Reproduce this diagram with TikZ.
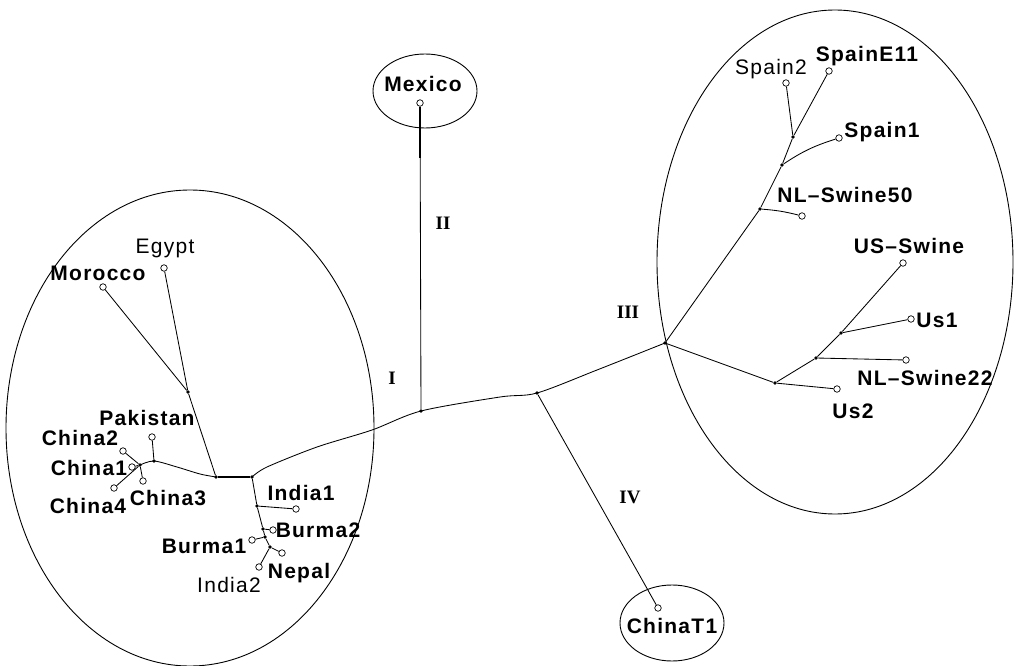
\documentclass[tikz,border=0pt]{standalone}
\usepackage{fontspec}
\setmainfont{Liberation Sans}
\newfontfamily\labfont[LetterSpace=6]{Liberation Sans}
\newfontfamily\romfont{Liberation Serif}
\begin{document}
\begin{tikzpicture}[x=1pt,y=-1pt,
  leaf/.style={circle,draw,fill=white,inner sep=0pt,minimum size=6.5pt,line width=0.7pt},
  junc/.style={circle,fill=black,inner sep=0pt,minimum size=3.6pt},
  lab/.style={anchor=base,inner sep=0pt,font=\labfont\fontsize{21}{24}\selectfont},
  blab/.style={anchor=base,inner sep=0pt,font=\labfont\bfseries\fontsize{21}{24}\selectfont},
  rom/.style={inner sep=0pt,font=\romfont\bfseries\fontsize{19}{22}\selectfont},
  br/.style={line width=0.85pt},
  ring/.style={line width=0.9pt}]
\useasboundingbox (0,0) rectangle (1018,666);

% ---- cluster rings ----
\draw[ring] (190,428) ellipse [x radius=184, y radius=238];
\draw[ring] (835,262) ellipse [x radius=178, y radius=252];
\draw[ring] (425,91) ellipse [x radius=52, y radius=37];
\draw[ring] (672,623) ellipse [x radius=52, y radius=38];

% ---- junctions ----
\node[junc] (A)    at (216,477) {};
\node[junc] (B)    at (252,477) {};
\node[junc] (MEJ)  at (188,392) {};
\node[junc] (PJ)   at (154,461) {};
\node[junc] (CJ)   at (140,465) {};
\node[junc] (IJ1)  at (257,506) {};
\node[junc] (BJ2)  at (263,529) {};
\node[junc] (BJ1)  at (265,537) {};
\node[junc] (NJ)   at (270,547) {};
\node[junc] (MJ)   at (421,411) {};
\node[junc] (IVJ)  at (537,393) {};
\node[junc] (III)  at (665,343) {};
\node[junc] (NJ50) at (760,209) {};
\node[junc] (S1J)  at (782,165) {};
\node[junc] (SJ)   at (793,137) {};
\node[junc] (U2J)  at (775,383) {};
\node[junc] (N22J) at (816,358) {};
\node[junc] (U1J)  at (841,333) {};
\coordinate (t1) at (267,467);
\coordinate (t2) at (317,447);
\coordinate (t3) at (372,430);
\coordinate (t4) at (500,397);
\coordinate (t5) at (597,370);
\coordinate (c1) at (200,474);
\coordinate (c2) at (177,467);
\coordinate (mk) at (420,158);

% ---- leaves ----
\node[leaf] (Mex) at (420,103) {};
\node[leaf] (Egy) at (164,268) {};
\node[leaf] (Mor) at (103,287) {};
\node[leaf] (Pak) at (152,437) {};
\node[leaf] (Ch2) at (123,451) {};
\node[leaf] (Ch1) at (132,467) {};
\node[leaf] (Ch3) at (143,481) {};
\node[leaf] (Ch4) at (114,488) {};
\node[leaf] (In1) at (296,509) {};
\node[leaf] (Bu2) at (273,530) {};
\node[leaf] (Bu1) at (252,540) {};
\node[leaf] (Nep) at (282,553) {};
\node[leaf] (In2) at (259,567) {};
\node[leaf] (CT1) at (658,608) {};
\node[leaf] (S2)  at (786,83) {};
\node[leaf] (SE11) at (829,71) {};
\node[leaf] (S1)  at (839,138) {};
\node[leaf] (N50) at (802,216) {};
\node[leaf] (USS) at (903,263) {};
\node[leaf] (U1)  at (911,319) {};
\node[leaf] (N22) at (906,360) {};
\node[leaf] (U2)  at (837,389) {};

% ---- branches ----
\draw[br] plot[smooth, tension=0.5] coordinates {(B.center) (t1) (t2) (t3) (MJ.center) (t4) (IVJ.center) (t5) (III.center)};
\draw[line width=1.8pt] (A) -- (B);
\draw[br] (MJ) -- (Mex);
\draw[line width=1.4pt] (Mex) -- (mk);
\draw[br] (A) -- (MEJ);
\draw[br] (MEJ) -- (Egy);
\draw[br] (MEJ) -- (Mor);
\draw[br] plot[smooth, tension=0.5] coordinates {(A.center) (c1) (c2) (PJ.center) (CJ.center)};
\draw[br] (PJ) -- (Pak);
\draw[br] (CJ) -- (Ch2);
\draw[br] (CJ) -- (Ch1);
\draw[br] (CJ) -- (Ch3);
\draw[br] (CJ) -- (Ch4);
\draw[br] (B) -- (IJ1) -- (BJ2) -- (BJ1) -- (NJ);
\draw[br] (IJ1) -- (In1);
\draw[br] (BJ2) -- (Bu2);
\draw[br] (BJ1) -- (Bu1);
\draw[br] (NJ) -- (Nep);
\draw[br] (NJ) -- (In2);
\draw[br] (IVJ) -- (CT1);
\draw[br] (III) -- (NJ50) -- (S1J) -- (SJ) -- (SE11);
\draw[br] (SJ) -- (S2);
\draw[br] (S1J) to[bend left=8] (S1);
\draw[br] (NJ50) to[bend left=5] (N50);
\draw[br] (III) -- (U2J) -- (N22J) -- (U1J) -- (USS);
\draw[br] (U2J) -- (U2);
\draw[br] (N22J) -- (N22);
\draw[br] (U1J) -- (U1);

% ---- labels ----
\node[blab] (tMex) at (423,92) {Mexico};
\node[lab]  (tEgy) at (165,253) {Egypt};
\node[blab] (tMor) at (98,280) {Morocco};
\node[blab] (tPak) at (147,425) {Pakistan};
\node[blab] (tCh2) at (80,445) {China2};
\node[blab] (tCh1) at (89,475) {China1};
\node[blab] (tCh4) at (88,513) {China4};
\node[blab] (tCh3) at (168,505) {China3};
\node[blab] (tIn1) at (301,500) {India1};
\node[blab] (tBu2) at (318,537) {Burma2};
\node[blab] (tBu1) at (204,553) {Burma1};
\node[blab] (tNep) at (299,578) {Nepal};
\node[lab]  (tIn2) at (229,592) {India2};
\node[blab] (tCT1) at (672,633) {ChinaT1};
\node[lab]  (tS2)  at (771,75) {Spain2};
\node[blab] (tSE11) at (867,62) {SpainE11};
\node[blab] (tS1)  at (882,138) {Spain1};
\node[blab] (tN50) at (845,203) {NL–Swine50};
\node[blab] (tUSS) at (909,253) {US–Swine};
\node[blab] (tU1)  at (937,327) {Us1};
\node[blab] (tN22) at (925,385) {NL–Swine22};
\node[blab] (tU2)  at (853,418) {Us2};

\node[rom] (rI)   at (392,378) {I};
\node[rom] (rII)  at (443,223) {II};
\node[rom] (rIII) at (628,312) {III};
\node[rom] (rIV)  at (630,497) {IV};
\end{tikzpicture}
\end{document}
